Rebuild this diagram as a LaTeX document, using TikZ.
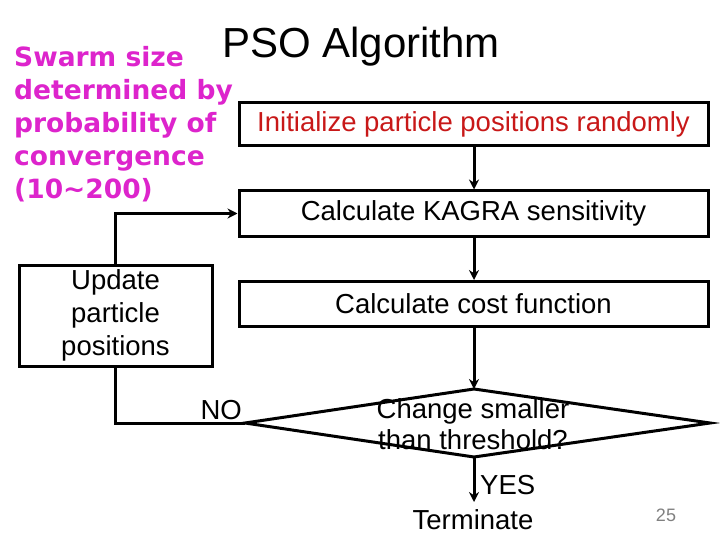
\documentclass[tikz,border=0pt]{standalone}
\usepackage{fontspec}
\setmainfont{Liberation Sans}
\newfontfamily\verd{DejaVu Sans}
\usetikzlibrary{arrows.meta}
\definecolor{swarmmag}{RGB}{221,36,204}
\definecolor{initred}{RGB}{200,24,24}
\definecolor{pagegray}{RGB}{128,128,128}
\tikzset{
  flowbox/.style={draw, line width=3pt, rectangle, inner sep=0pt, align=center,
    font=\fontsize{27.5}{33}\selectfont},
  plain/.style={inner sep=0pt, align=center, font=\fontsize{27.5}{33}\selectfont},
  conn/.style={line width=3pt, -{Stealth[length=10pt,width=10pt]}},
  link/.style={line width=3pt}
}
\begin{document}
\begin{tikzpicture}[x=1pt,y=-1pt]
\useasboundingbox (0,0) rectangle (720,540);
% title
\node[inner sep=0pt, anchor=base, font=\fontsize{42}{48}\selectfont] (title) at (361,58) {PSO Algorithm};
% magenta note
\node[inner sep=0pt, anchor=west, align=left, text=swarmmag, font=\verd\bfseries\fontsize{26.5}{33}\selectfont] (note) at (14,124)
  {Swarm size\\determined by\\probability of\\convergence\\(10\char`~200)};
% boxes
\node[flowbox, minimum width=469pt, minimum height=43pt, text=initred] (init) at (473.5,124) {Initialize particle positions randomly};
\node[flowbox, minimum width=469pt, minimum height=45pt] (kagra) at (473.5,213.5) {Calculate KAGRA sensitivity};
\node[flowbox, minimum width=469pt, minimum height=45pt] (cost) at (473.5,304) {Calculate cost function};
\node[flowbox, minimum width=193pt, minimum height=101pt] (update) at (115.5,315.5) {Update\\particle\\positions};
% diamond
\coordinate (dl) at (245,423);
\coordinate (dt) at (474,389);
\coordinate (dr) at (710,423);
\coordinate (db) at (474,457);
\draw[line width=3pt, line join=miter] (dl) -- (dt) -- (dr) -- (db) -- cycle;
\node[plain, font=\fontsize{27.5}{31}\selectfont] (dtext) at (473,424.5) {Change smaller\\than threshold?};
% terminate
\node[plain] (term) at (473,520) {Terminate};
\coordinate (termtop) at (474,502);
% labels
\node[plain, anchor=west] (yes) at (480,485) {YES};
\node[plain, anchor=east] (no) at (242,410) {NO};
\node[inner sep=0pt, text=pagegray, font=\fontsize{18}{20}\selectfont] (page) at (666,515) {25};
% connectors
\draw[conn] (init.south -| dt) -- (kagra.north -| dt);
\draw[conn] (kagra.south -| dt) -- (cost.north -| dt);
\draw[conn] (cost.south -| dt) -- (dt);
\draw[conn] (db) -- (termtop);
\draw[link] (dl) -- (update.south |- dl) -- (update.south);
\draw[conn] (update.north) -- (update.north |- kagra.west) -- (kagra.west);
\end{tikzpicture}
\end{document}
